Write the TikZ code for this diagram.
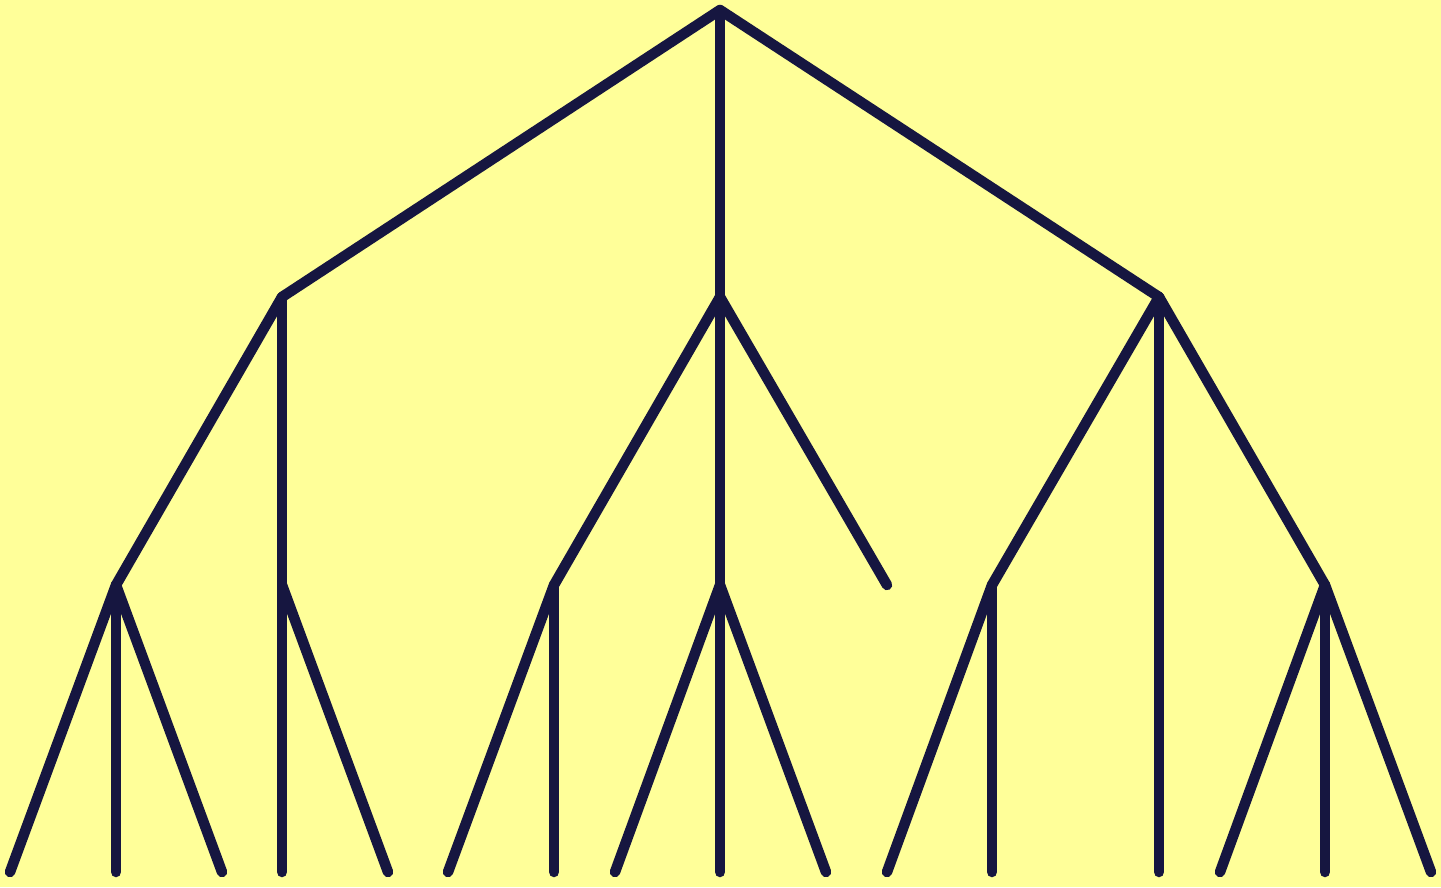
\documentclass[tikz,border=0pt]{standalone}
\definecolor{bg}{HTML}{FFFF99}
\definecolor{ink}{HTML}{161640}
\begin{document}
\begin{tikzpicture}[x=1pt,y=-1pt,
  edge/.style={draw=ink,line width=10.5pt,line cap=round}]
\fill[bg] (0,0) rectangle (1441,887);
\useasboundingbox (0,0) rectangle (1441,887);
% nodes
\coordinate (r) at (720,10);
\coordinate (a) at (282,297);
\coordinate (b) at (720,297);
\coordinate (c) at (1159,297);
\coordinate (a1) at (116,585);
\coordinate (a2) at (282,585);
\coordinate (b1) at (554,585);
\coordinate (b2) at (720,585);
\coordinate (b3) at (887,585);
\coordinate (c1) at (992,585);
\coordinate (c2) at (1159,585);
\coordinate (c3) at (1325,585);
\foreach \n/\x in {l1/10,l2/116,l3/222,l4/282,l5/388,l6/448,l7/554,l8/615,l9/720,l10/826,l11/887,l12/992,l13/1159,l14/1220,l15/1325,l16/1431}
  \coordinate (\n) at (\x,872);
% edges
\foreach \p/\q in {r/a,r/b,r/c,a/a1,a/a2,b/b1,b/b2,b/b3,c/c1,c/c2,c/c3,
  a1/l1,a1/l2,a1/l3,a2/l4,a2/l5,b1/l6,b1/l7,b2/l8,b2/l9,b2/l10,
  c1/l11,c1/l12,c2/l13,c3/l14,c3/l15,c3/l16}
  \path[edge] (\p) -- (\q);
\end{tikzpicture}
\end{document}
